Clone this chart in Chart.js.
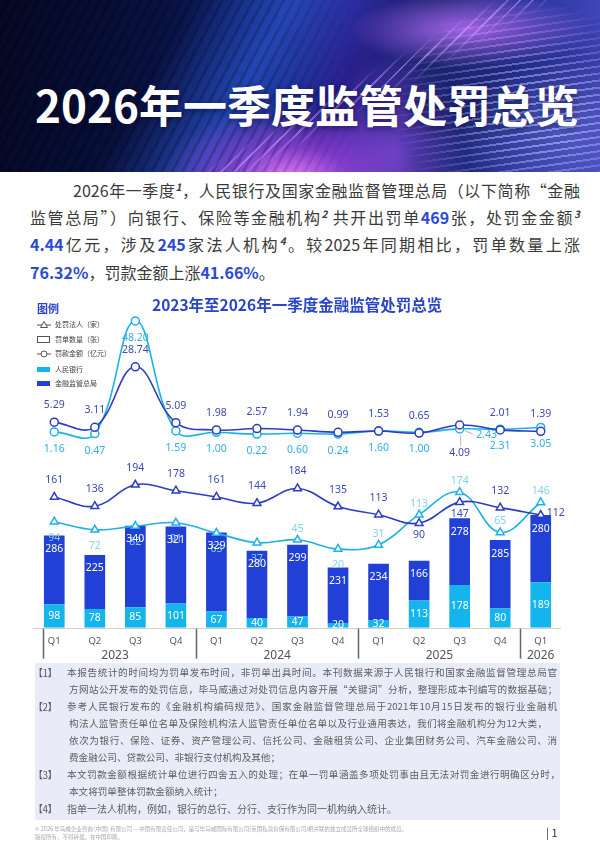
<!DOCTYPE html>
<html><head><meta charset="utf-8">
<script src="https://cdn.jsdelivr.net/npm/chart.js@4.4.1/dist/chart.umd.min.js"></script>
<style>
html,body{margin:0;padding:0;background:#fff;}
body{width:600px;height:867px;position:relative;overflow:hidden;font-family:"Noto Sans CJK SC","Noto Sans",sans-serif;}
.hdr{position:absolute;left:0;top:0;width:600px;height:172px;overflow:hidden;
 background:
  radial-gradient(ellipse 130px 75px at 290px 180px, rgba(240,125,255,0.98), rgba(180,75,240,0.6) 45%, rgba(120,40,200,0) 100%),
  radial-gradient(ellipse 160px 50px at 470px 30px, rgba(185,110,250,0.9), rgba(120,60,220,0) 75%),
  radial-gradient(ellipse 130px 90px at 560px 130px, rgba(120,130,255,0.75), rgba(80,90,220,0) 80%),
  radial-gradient(ellipse 90px 120px at 395px 150px, rgba(150,80,240,0.6), rgba(80,40,200,0) 80%),
  linear-gradient(120deg, rgba(0,0,0,0) 28%, rgba(50,100,230,0.55) 42%, rgba(0,0,0,0) 56%),
  linear-gradient(100deg,#050923 0%,#09113f 26%,#0f2270 42%,#2a1f8e 56%,#1c2672 70%,#2c38a4 86%,#4a4cc2 100%);}
.stripes{position:absolute;left:0;top:0;width:600px;height:172px;
 background:repeating-linear-gradient(118deg, rgba(255,255,255,0) 0 6px, rgba(0,0,20,0.28) 6px 9px);
 -webkit-mask-image:linear-gradient(90deg, rgba(0,0,0,0.9) 0%, rgba(0,0,0,0.6) 45%, rgba(0,0,0,0) 60%);}
.stripes2{position:absolute;left:360px;top:0;width:240px;height:172px;
 background:repeating-linear-gradient(172deg, rgba(220,230,255,0.35) 0 2px, rgba(0,0,30,0.25) 2px 7px);
 -webkit-mask-image:radial-gradient(ellipse 140px 110px at 170px 110px, #000 30%, rgba(0,0,0,0) 100%);}
.teeth{position:absolute;left:0;top:0;width:600px;height:172px;
 background:repeating-linear-gradient(135deg, rgba(210,170,255,0) 0 7px, rgba(210,170,255,0.55) 7px 9px);
 -webkit-mask-image:linear-gradient(150deg, rgba(0,0,0,0) 55%, #000 58%, rgba(0,0,0,0) 62%);}
.title{position:absolute;left:0;top:76px;width:614px;text-align:center;color:#fff;font-weight:700;font-size:44px;line-height:56px;letter-spacing:0px;text-shadow:0 2px 6px rgba(0,0,40,0.45);}
.pl{position:absolute;left:30px;width:550px;height:27px;line-height:27px;font-size:16px;color:#3a3a3a;text-align:justify;text-align-last:justify;white-space:normal;}
.pl b{color:#2b4bd2;font-weight:700;}
.pl sup{font-size:10px;font-style:italic;font-weight:700;vertical-align:6px;line-height:0;}
.ctitle{position:absolute;left:152px;top:293px;font-size:15.5px;font-weight:700;color:#2a45c9;white-space:nowrap;}
.lg-h{position:absolute;left:37px;top:300px;font-size:11px;font-weight:700;color:#2a45c9;}
.lg{position:absolute;left:55px;font-size:7px;color:#444;line-height:10px;white-space:nowrap;}
.ic{position:absolute;left:37px;}
#cv{position:absolute;left:0;top:290px;}
.fbox{position:absolute;left:35px;top:663px;width:525px;height:157px;background:#e9ebf9;}
.fn{position:absolute;left:67px;width:490px;height:17px;line-height:17px;font-size:9.6px;color:#5e5e5e;text-align:justify;text-align-last:justify;overflow:visible;}
.fn.l{text-align-last:left;}
.fk{position:absolute;left:33px;height:17px;line-height:17px;font-size:10px;color:#5e5e5e;letter-spacing:-0.5px;}
.cp{position:absolute;left:35px;font-size:5.5px;color:#a8a8a8;white-space:nowrap;line-height:8px;}
.pg{position:absolute;left:546px;top:824px;font-size:11px;color:#333;}
</style></head><body>
<div class="hdr"></div>
<div class="stripes"></div>
<div class="stripes2"></div>
<div class="teeth"></div>
<div class="title">2026年一季度监管处罚总览</div>

<div class="pl" style="top:177px;padding-left:43px;width:507px;">2026年一季度<sup>1</sup>，人民银行及国家金融监督管理总局（以下简称“金融</div>
<div class="pl" style="top:204px;">监管总局”）向银行、保险等金融机构<sup>2</sup> 共开出罚单<b>469</b>张，处罚金金额<sup>3</sup></div>
<div class="pl" style="top:231px;"><b>4.44</b>亿元，涉及<b>245</b>家法人机构<sup>4</sup>。较2025年同期相比，罚单数量上涨</div>
<div class="pl" style="top:259px;text-align-last:left;"><b>76.32%</b>，罚款金额上涨<b>41.66%</b>。</div>

<canvas id="cv" width="600" height="380"></canvas>

<div class="ctitle">2023年至2026年一季度金融监管处罚总览</div>
<div class="lg-h">图例</div>
<svg class="ic" style="top:320px" width="16" height="10"><line x1="0" y1="5" x2="14" y2="5" stroke="#555" stroke-width="1"/><polygon points="7,1.5 10.5,7.5 3.5,7.5" fill="#fff" stroke="#555" stroke-width="1"/></svg>
<div class="lg" style="top:319px">处罚法人（家）</div>
<svg class="ic" style="top:335px" width="16" height="10"><rect x="0.5" y="1.5" width="12" height="6" fill="#fff" stroke="#555" stroke-width="1"/></svg>
<div class="lg" style="top:334px">罚单数量（张）</div>
<svg class="ic" style="top:349px" width="16" height="10"><line x1="0" y1="5" x2="14" y2="5" stroke="#555" stroke-width="1"/><circle cx="7" cy="5" r="3" fill="#fff" stroke="#555" stroke-width="1"/></svg>
<div class="lg" style="top:348px">罚款金额（亿元）</div>
<svg class="ic" style="top:365px" width="16" height="10"><rect x="0" y="2" width="13" height="5" fill="#14b4ec"/></svg>
<div class="lg" style="top:364px">人民银行</div>
<svg class="ic" style="top:379px" width="16" height="10"><rect x="0" y="2" width="13" height="5" fill="#2140d6"/></svg>
<div class="lg" style="top:378px">金融监管总局</div>

<div class="fbox"></div>
<div class="fk" style="top:664px">【1】</div>
<div class="fn" style="top:664px">本报告统计的时间均为罚单发布时间，非罚单出具时间。本刊数据来源于人民银行和国家金融监督管理总局官</div>
<div class="fn" style="top:681px;left:69px;width:488px;">方网站公开发布的处罚信息，毕马威通过对处罚信息内容开展“关键词”分析，整理形成本刊编写的数据基础；</div>
<div class="fk" style="top:698px">【2】</div>
<div class="fn" style="top:698px">参考人民银行发布的《金融机构编码规范》、国家金融监督管理总局于2021年10月15日发布的银行业金融机</div>
<div class="fn" style="top:715px;left:69px;width:478px;">构法人监管责任单位名单及保险机构法人监管责任单位名单以及行业通用表达，我们将金融机构分为12大类，</div>
<div class="fn" style="top:732px;left:69px;width:488px;">依次为银行、保险、证券、资产管理公司、信托公司、金融租赁公司、企业集团财务公司、汽车金融公司、消</div>
<div class="fn l" style="top:749px;left:69px;">费金融公司、贷款公司、非银行支付机构及其他；</div>
<div class="fk" style="top:766px">【3】</div>
<div class="fn" style="top:766px;width:493px;">本文罚款金额根据统计单位进行四舍五入的处理；在单一罚单涵盖多项处罚事由且无法对罚金进行明确区分时，</div>
<div class="fn l" style="top:783px;left:69px;">本文将罚单整体罚款金额纳入统计；</div>
<div class="fk" style="top:800px">【4】</div>
<div class="fn l" style="top:800px;font-size:10px;">指单一法人机构，例如，银行的总行、分行、支行作为同一机构纳入统计。</div>

<div class="cp" style="top:825px">© 2026 毕马威企业咨询 (中国) 有限公司 — 中国有限责任公司，是与毕马威国际有限公司(英国私营担保有限公司)相关联的独立成员所全球组织中的成员。</div>
<div class="cp" style="top:833px">版权所有，不得转载。在中国印刷。</div>
<div class="pg">| 1</div>

<script>
// ---- data ----
const quarters = ['Q1','Q2','Q3','Q4','Q1','Q2','Q3','Q4','Q1','Q2','Q3','Q4','Q1'];
const yearLabels = ['2023','2024','2025','2026'];
const yearSizes = [4,4,4,1];
const pbocTickets = [98,78,85,101,67,40,47,20,32,113,178,80,189];
const nfraTickets = [286,225,340,321,329,280,299,231,234,166,278,285,280];
const pbocEntities = [94,72,82,91,63,37,45,20,31,113,174,65,146];
const nfraEntities = [161,136,194,178,161,144,184,135,113,90,147,132,112];
const pbocFines = [1.16,0.47,48.20,1.59,1.00,0.22,0.60,0.24,1.60,1.00,2.43,2.31,3.05];
const nfraFines = [5.29,3.11,28.74,5.09,1.98,2.57,1.94,0.99,1.53,0.65,4.09,2.01,1.39];

const DARK='#2b3dc2', LIGHT='#1fb1e6', BAR_N='#2140d6', BAR_P='#14b4ec';
const FONT='"Noto Sans", "Open Sans", sans-serif';

const labelPlugin={
 id:'labels',
 afterDatasetsDraw(chart){
  const ctx=chart.ctx, area=chart.chartArea;
  ctx.save();
  ctx.strokeStyle='#d9cec6'; ctx.lineWidth=1;
  ctx.beginPath(); ctx.moveTo(area.left-1,Math.round(area.bottom)+0.5); ctx.lineTo(area.right,Math.round(area.bottom)+0.5); ctx.stroke();
  ctx.restore();
  chart.data.datasets.forEach((ds,di)=>{
   const L=ds.lbl; if(!L) return;
   const meta=chart.getDatasetMeta(di);
   ctx.save();
   ctx.font=(L.size||10.5)+'px '+FONT;
   ctx.fillStyle=L.color; ctx.textAlign='center'; ctx.textBaseline='middle';
   meta.data.forEach((el,i)=>{
    const v=ds.data[i];
    const txt=L.dec?v.toFixed(L.dec):String(v);
    const p=L.pos[i];
    let x=el.x,y=el.y;
    if(p==='t') y-=L.t;
    else if(p==='b') y+=L.b;
    else if(p==='B'){
      ctx.save();ctx.strokeStyle='#aaa';ctx.lineWidth=0.8;ctx.beginPath();ctx.moveTo(x+1,y+10);ctx.lineTo(x+1,y+21);ctx.stroke();ctx.restore();
      y+=28;
    }
    else if(p==='r'){
      if(L.lead){ctx.save();ctx.strokeStyle='#999';ctx.lineWidth=0.8;ctx.beginPath();ctx.moveTo(x+5,y+2);ctx.lineTo(x+13,y+5);ctx.stroke();ctx.restore();}
      x+=L.rdx; y+=L.rdy;
    }
    else if(p==='i') y=el.y+13.5;
    else if(p==='c') y=(el.y+el.base)/2;
    ctx.fillText(txt,x,y);
   });
   ctx.restore();
  });
 },
 afterDraw(chart){
  const ctx=chart.ctx, xs=chart.scales.x, area=chart.chartArea;
  const step=xs.getPixelForValue(1)-xs.getPixelForValue(0);
  ctx.save();
  ctx.fillStyle='#555'; ctx.textAlign='center'; ctx.textBaseline='middle';
  ctx.font='9.5px '+FONT;
  quarters.forEach((q,i)=>ctx.fillText(q,xs.getPixelForValue(i),area.bottom+14));
  ctx.font='12px '+FONT;
  let idx=0;
  ctx.strokeStyle='#666'; ctx.lineWidth=1.5;
  yearLabels.forEach((yl,g)=>{
    const a=xs.getPixelForValue(idx), b=xs.getPixelForValue(idx+yearSizes[g]-1);
    ctx.fillText(yl,(a+b)/2,area.bottom+28);
    const sx = idx===0 ? a-step*0.27 : (a+xs.getPixelForValue(idx-1))/2;
    ctx.beginPath(); ctx.moveTo(Math.round(sx)+0.5,area.bottom+1); ctx.lineTo(Math.round(sx)+0.5,area.bottom+31); ctx.stroke();
    idx+=yearSizes[g];
  });
  ctx.restore();
 }
};

const H=317.7;
new Chart(document.getElementById('cv'),{
 data:{
  labels:quarters,
  datasets:[
   {type:'line',label:'金融监管总局罚款金额',data:nfraFines,yAxisID:'y3',borderColor:DARK,borderWidth:1.6,tension:0.4,
    pointStyle:'circle',pointRadius:4,pointBackgroundColor:'#fff',pointBorderColor:DARK,pointBorderWidth:1.5,order:1,
    lbl:{color:'#3c4ab3',pos:['t','t','t','t','t','t','t','t','t','t','B','t','t'],t:17,b:17,dec:2}},
   {type:'line',label:'人民银行罚款金额',data:pbocFines,yAxisID:'y3',borderColor:LIGHT,borderWidth:1.6,tension:0.4,
    pointStyle:'circle',pointRadius:4,pointBackgroundColor:'#fff',pointBorderColor:LIGHT,pointBorderWidth:1.5,order:2,
    lbl:{color:'#2fb0e3',pos:['b','b','b','b','b','b','b','b','b','b','r','b','b'],t:17,b:17,dec:2,rdx:27,rdy:6,lead:true}},
   {type:'line',label:'金融监管总局处罚法人',data:nfraEntities,yAxisID:'y2',borderColor:DARK,borderWidth:1.6,tension:0.4,
    pointStyle:'triangle',pointRadius:4.5,pointBackgroundColor:'#fff',pointBorderColor:DARK,pointBorderWidth:1.5,order:3,
    lbl:{color:'#3c4ab3',pos:['t','t','t','t','t','t','t','t','t','b','b','t','r'],t:17,b:12,rdx:15,rdy:-2}},
   {type:'line',label:'人民银行处罚法人',data:pbocEntities,yAxisID:'y2',borderColor:LIGHT,borderWidth:1.6,tension:0.4,
    pointStyle:'triangle',pointRadius:4.5,pointBackgroundColor:'#fff',pointBorderColor:LIGHT,pointBorderWidth:1.5,order:4,
    lbl:{color:'#86cff0',pos:['b','b','b','b','b','b','t','b','t','t','t','t','t'],t:11,b:16}},
   {type:'bar',label:'人民银行',data:pbocTickets,yAxisID:'y',backgroundColor:BAR_P,barPercentage:0.51,categoryPercentage:1,order:10,
    lbl:{color:'#fff',pos:Array(13).fill('c')}},
   {type:'bar',label:'金融监管总局',data:nfraTickets,yAxisID:'y',backgroundColor:BAR_N,barPercentage:0.51,categoryPercentage:1,order:11,
    lbl:{color:'#fff',pos:Array(13).fill('i')}}
  ]
 },
 options:{
  responsive:false,animation:false,devicePixelRatio:window.devicePixelRatio||1,
  layout:{padding:{top:20,bottom:380-20-H,left:34,right:39}},
  plugins:{legend:{display:false},tooltip:{enabled:false},title:{display:false}},
  scales:{
   x:{display:false,stacked:true,offset:true},
   y:{display:false,stacked:true,min:0,max:H*4.165},
   y2:{display:false,min:-193.3,max:-193.3+H*2.71},
   y3:{display:false,min:-81.8,max:-81.8+H*0.4237}
  }
 },
 plugins:[labelPlugin]
});
</script>
</body></html>
